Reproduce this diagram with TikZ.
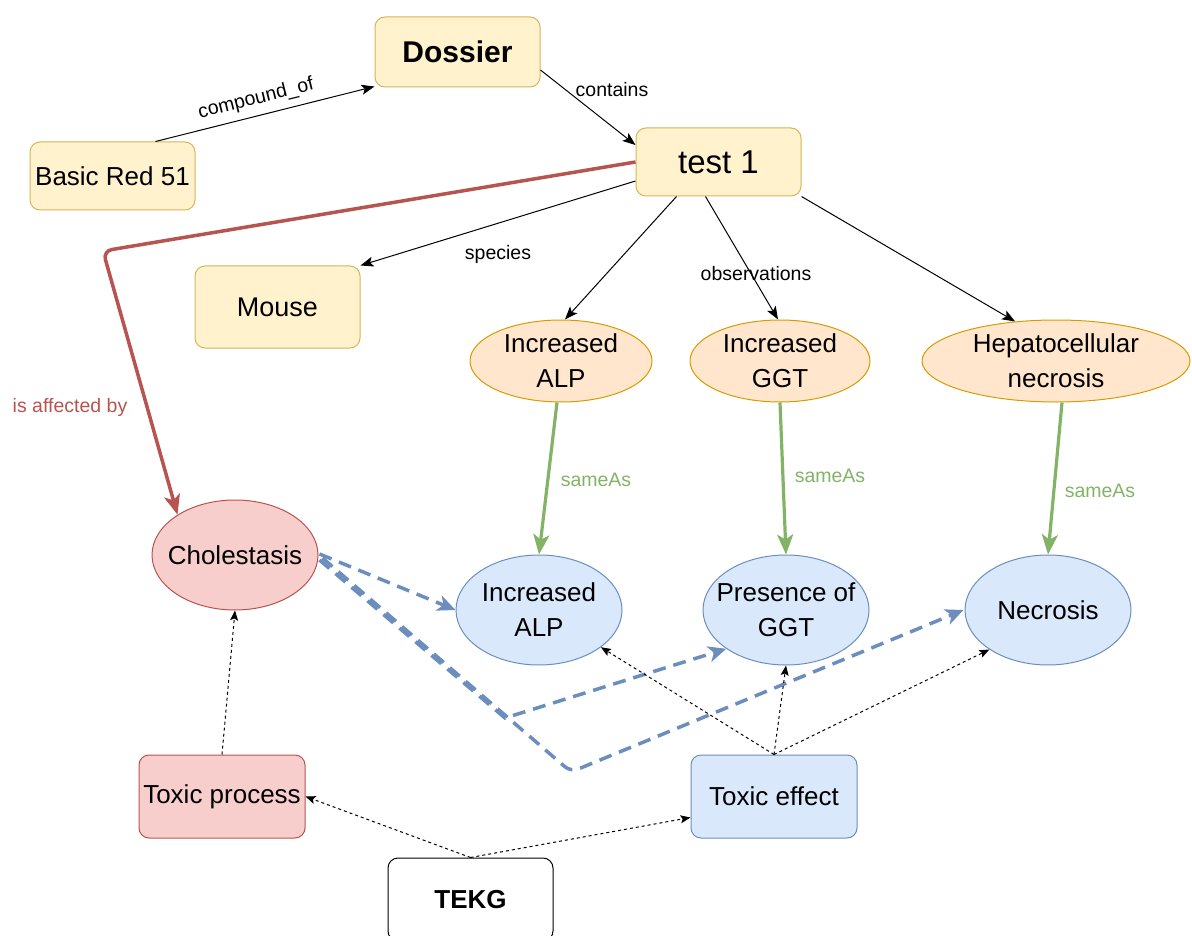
\documentclass[tikz,border=0pt]{standalone}
\usepackage{fontspec}
\setmainfont{Liberation Sans}
\usetikzlibrary{arrows.meta,shapes.geometric,calc}
\definecolor{yfill}{HTML}{FFF2CC}\definecolor{ydraw}{HTML}{D6B656}
\definecolor{ofill}{HTML}{FFE6CC}\definecolor{odraw}{HTML}{D79B00}
\definecolor{rfill}{HTML}{F8CECC}\definecolor{rdraw}{HTML}{B85450}
\definecolor{bfill}{HTML}{DAE8FC}\definecolor{bdraw}{HTML}{6C8EBF}
\definecolor{gdraw}{HTML}{82B366}
\begin{document}
\begin{tikzpicture}[x=1pt,y=-1pt,
  mainfont/.style={font=\fontsize{26}{35}\selectfont},
  ybox/.style={draw=ydraw,fill=yfill,rounded corners=10pt,line width=1pt,inner sep=0pt,minimum width=165pt,mainfont},
  rbox/.style={draw=rdraw,fill=rfill,rounded corners=10pt,line width=1pt,inner sep=0pt,minimum width=166pt,minimum height=83pt,mainfont},
  bbox/.style={draw=bdraw,fill=bfill,rounded corners=10pt,line width=1pt,inner sep=0pt,minimum width=166pt,minimum height=83pt,mainfont},
  txt/.style={label={[mainfont,align=center]center:#1}},
  oell/.style={ellipse,draw=odraw,fill=ofill,line width=1pt,inner sep=0pt,minimum height=82pt},
  bell/.style={ellipse,draw=bdraw,fill=bfill,line width=1pt,inner sep=0pt,minimum width=166pt,minimum height=110pt},
  rell/.style={ellipse,draw=rdraw,fill=rfill,line width=1pt,inner sep=0pt,minimum width=166pt,minimum height=110pt},
  rel/.style={draw=black,line width=1pt,-{Stealth[length=13pt,width=10pt,inset=3pt]}},
  lbl/.style={font=\fontsize{19.5}{22}\selectfont,inner sep=1pt},
  same/.style={draw=gdraw,line width=3.2pt,-{Stealth[length=20pt,width=16pt,inset=5pt]}},
  samelbl/.style={font=\fontsize{19.5}{22}\selectfont,text=gdraw,inner sep=1pt},
  affect/.style={draw=rdraw,line width=3.5pt,rounded corners=9pt,-{Stealth[length=20pt,width=16pt,inset=5pt]}},
  bdash/.style={draw=bdraw,line width=3.5pt,dash pattern=on 13pt off 8pt,-{Stealth[length=18pt,width=16pt,inset=5pt]}},
  dotarr/.style={draw=black,line width=1pt,dash pattern=on 3pt off 3pt,-{Stealth[length=10pt,width=8pt,inset=2pt]}}
]
\useasboundingbox (0,0) rectangle (1192,936);
% nodes
\node[ybox,minimum height=70pt,font=\fontsize{30}{34}\selectfont\bfseries] (dossier) at (457.5,52) {Dossier};
\node[ybox,minimum height=68pt] (basic) at (112.5,176) {Basic Red 51};
\node[ybox,minimum height=68pt,font=\fontsize{33}{38}\selectfont] (test) at (718.5,162) {test 1};
\node[ybox,minimum height=82pt,font=\fontsize{27}{32}\selectfont] (mouse) at (277.5,307) {Mouse};
\node[oell,minimum width=182pt,txt={Increased\\ALP}] (alpO) at (561,361) {};
\node[oell,minimum width=180pt,txt={Increased\\GGT}] (ggtO) at (780,361) {};
\node[oell,minimum width=268pt,txt={Hepatocellular\\necrosis}] (hep) at (1056,361) {};
\node[rell,txt={Cholestasis}] (chol) at (235,555) {};
\node[bell,txt={Increased\\ALP}] (alpB) at (539,610) {};
\node[bell,txt={Presence of\\GGT}] (ggtB) at (786,610) {};
\node[bell,txt={Necrosis}] (necB) at (1048,610) {};
\node[rbox] (tp) at (222,796.5) {Toxic process};
\node[bbox] (te) at (774,796.5) {Toxic effect};
\node[draw=black,fill=white,rounded corners=10pt,line width=1pt,minimum width=165pt,minimum height=83pt,inner sep=0pt,font=\fontsize{26}{30}\selectfont\bfseries] (tekg) at (470.5,899.5) {TEKG};
% black relations
\draw[rel] ([xshift=-40pt]basic.north east) -- ([yshift=1pt]dossier.south west);
\node[lbl,rotate=14] (lcomp) at (256,99) {compound\_of};
\draw[rel] ([yshift=-18pt]dossier.east) -- ([yshift=17pt]test.west);
\node[lbl] (lcont) at (612,90) {contains};
\draw[rel] ([yshift=-19pt]test.west) -- (mouse.north east);
\node[lbl] (lspec) at (498,254) {species};
\draw[rel] ([xshift=-42pt]test.south) -- ([xshift=4pt]alpO.north);
\draw[rel] ([xshift=-13pt]test.south) -- ([xshift=-2pt]ggtO.north);
\node[lbl] (lobs) at (756,274) {observations};
\draw[rel] (test.south east) -- (hep.136);
% red affected
\coordinate (rc) at (103,251);
\draw[affect] (test.west) -- (rc) -- (chol.145);
\node[lbl,text=rdraw] (laff) at (70,407) {is affected by};
% green sameAs
\draw[same] ([xshift=-4pt]alpO.south) -- (alpB.north);
\node[samelbl] (s1) at (596,480) {sameAs};
\draw[same] (ggtO.south) -- (ggtB.north);
\node[samelbl] (s2) at (830,476) {sameAs};
\draw[same] ([xshift=6pt]hep.south) -- (necB.north);
\node[samelbl] (s3) at (1100,491) {sameAs};
% blue dashed
\coordinate (b1) at (505,718);
\coordinate (b2) at (571,772);
\draw[bdash] ([xshift=1pt,yshift=1pt]chol.east) -- (alpB.west);
\draw[bdash] ([xshift=1pt,yshift=-5pt]chol.east) -- (b1) -- (ggtB.213);
\draw[bdash,rounded corners=8pt] ([xshift=4pt,yshift=-3pt]chol.east) -- (b2) -- ([xshift=-1pt]necB.west);
% dotted
\draw[dotarr] (tp.north) -- (chol.south);
\draw[dotarr] (tekg.north) -- (tp.east);
\draw[dotarr] (tekg.north) -- ([yshift=-21pt]te.west);
\draw[dotarr] (te.north) -- (alpB.-31);
\draw[dotarr] (te.north) -- (ggtB.south);
\draw[dotarr] (te.north) -- (necB.214);
\end{tikzpicture}
\end{document}
